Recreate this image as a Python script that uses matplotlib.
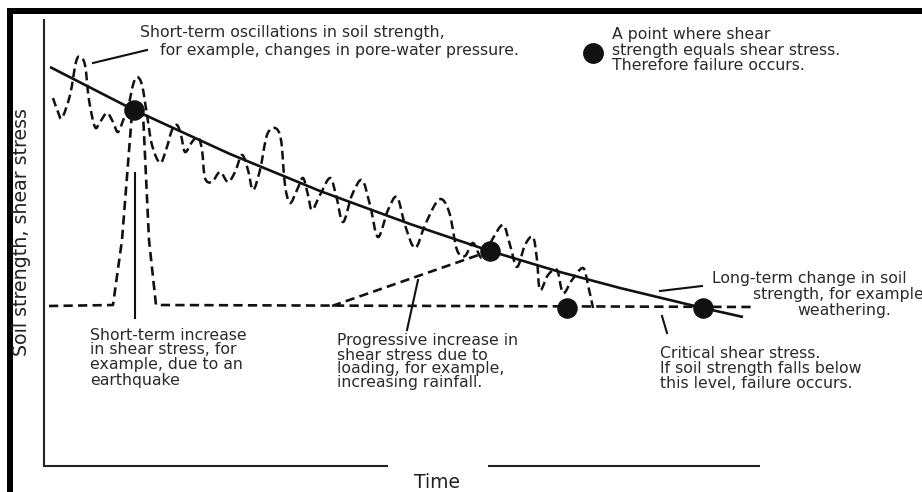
import numpy as np
import matplotlib
matplotlib.use("Agg")
import matplotlib.pyplot as plt
from matplotlib.path import Path
from matplotlib.patches import PathPatch, Rectangle

# ---------------- data (time units / strength units, arbitrary) ----------------
# long-term soil strength (solid line)
strength_t = [6, 90, 186, 276, 366, 446, 516, 576, 659, 699]
strength_s = [399, 356, 312, 275, 242, 215, 194, 178, 158, 149]

# short-term oscillating soil strength (dashed wavy curve)
osc_t = [9, 14, 18, 26, 32, 36, 41, 45, 51, 56, 63, 69, 74, 80, 84, 89, 93, 98, 103, 108,
         116, 122, 128, 133, 137, 141, 148, 154, 158, 161, 168, 176, 184, 191, 198, 204, 209,
         216, 223, 231, 237, 241, 246, 253, 259, 264, 268, 276, 286, 292, 299, 308, 318, 326,
         334, 344, 353, 361, 371, 381, 392, 399, 406, 413, 421, 429, 438, 448, 459, 466, 473,
         481, 489, 493, 496, 504, 513, 519, 528, 539, 544, 549]
osc_s = [368, 354, 348, 371, 404, 409, 401, 366, 339, 344, 353, 344, 334, 348, 358, 381, 389,
         381, 351, 321, 303, 316, 336, 341, 331, 314, 324, 329, 316, 288, 284, 294, 284, 294,
         311, 296, 276, 296, 331, 338, 326, 281, 263, 276, 288, 271, 256, 271, 288, 271, 244,
         271, 286, 261, 229, 256, 269, 241, 218, 241, 263, 266, 251, 216, 210, 223, 208, 226,
         241, 221, 199, 221, 229, 206, 176, 191, 196, 173, 186, 198, 181, 158]

# critical shear stress (horizontal dashed) with earthquake spike
shear_t = [5, 69, 78, 88, 93, 99, 105, 112, 711]
shear_s = [160, 161, 226, 353, 364, 353, 226, 161, 159]

# progressive increase in shear stress
prog_t = [288, 446]
prog_s = [160, 215]

# failure points
fail_t = [90, 446, 523, 659]
fail_s = [356, 215, 158, 158]

# ---------------- figure ----------------
W, H = 922, 492
fig = plt.figure(figsize=(W / 100, H / 100), dpi=100)
fig.patch.set_facecolor("white")

def fx(x):
    return x / W

def fy(y):
    return 1 - y / H

ax = fig.add_axes([fx(44), fy(466), 716 / W, 446 / H])
ax.set_xlim(0, 716)
ax.set_ylim(0, 446)
ax.set_xticks([])
ax.set_yticks([])
for side in ["top", "right", "bottom"]:
    ax.spines[side].set_visible(False)
ax.spines["left"].set_linewidth(1.5)
ax.spines["left"].set_color("#222222")
ax.patch.set_alpha(0)

# broken x-axis line with "Time" in the gap
ax.plot([0, 344 / 716], [0, 0], transform=ax.transAxes, color="#222222", lw=1.5,
        clip_on=False, solid_capstyle="butt")
ax.plot([444 / 716, 1], [0, 0], transform=ax.transAxes, color="#222222", lw=1.5,
        clip_on=False, solid_capstyle="butt")

ink = "#111111"
dash = (0, (3.5, 2.0))

# long-term strength
ax.plot(strength_t, strength_s, color=ink, lw=1.9, solid_capstyle="butt",
        solid_joinstyle="round", clip_on=False)

# oscillation (smooth path through the read points)
def smooth_path(t, s):
    P = np.column_stack([t, s]).astype(float)
    verts = [P[0]]
    codes = [Path.MOVETO]
    n = len(P)
    for i in range(n - 1):
        p0 = P[i - 1] if i > 0 else P[i]
        p1 = P[i]
        p2 = P[i + 1]
        p3 = P[i + 2] if i + 2 < n else P[i + 1]
        c1 = p1 + (p2 - p0) / 6.0
        c2 = p2 - (p3 - p1) / 6.0
        verts += [c1, c2, p2]
        codes += [Path.CURVE4] * 3
    return Path(verts, codes)

ax.add_patch(PathPatch(smooth_path(osc_t, osc_s), fill=False, edgecolor=ink, lw=1.8,
                       linestyle=(0, (3.5, 1.8)), clip_on=False))

# shear stress with earthquake spike + critical level
ax.plot(shear_t, shear_s, color=ink, lw=1.9, linestyle=dash, clip_on=False)
# progressive loading
ax.plot(prog_t, prog_s, color=ink, lw=1.9, linestyle=dash, clip_on=False)

# failure points
ax.scatter(fail_t, fail_s, s=190, color=ink, zorder=5, clip_on=False)

# ---------------- annotations (pixel positions converted to figure coords) ----------------
txt = dict(color="#2a2a2a", fontsize=11.3, family="DejaVu Sans", linespacing=1.0)

def ftext(x, y, s, **kw):
    d = dict(txt)
    d.update(kw)
    fig.text(fx(x), fy(y), s, va="center", **d)

def fline(x0, y0, x1, y1):
    fig.add_artist(plt.Line2D([fx(x0), fx(x1)], [fy(y0), fy(y1)], color=ink, lw=1.5))

# oscillation label
ftext(140, 32, "Short-term oscillations in soil strength,")
ftext(160, 50, "for example, changes in pore-water pressure.")
fline(93, 63, 147, 50)

# legend dot
fig.add_artist(plt.Line2D([fx(593)], [fy(53)], marker="o", markersize=14, color=ink))
ftext(612, 34, "A point where shear")
ftext(612, 50, "strength equals shear stress.")
ftext(612, 66, "Therefore failure occurs.")

# earthquake label
ftext(90, 335, "Short-term increase")
ftext(90, 350, "in shear stress, for")
ftext(90, 365, "example, due to an")
ftext(90, 380, "earthquake")
fline(135, 318, 135, 173)

# progressive label
ftext(337, 340, "Progressive increase in")
ftext(337, 355, "shear stress due to")
ftext(337, 369, "loading, for example,")
ftext(337, 383, "increasing rainfall.")
fline(407, 330, 418, 280)

# long-term label
ftext(712, 278, "Long-term change in soil")
ftext(753, 294, "strength, for example")
ftext(797, 310, "weathering.")
fline(660, 291, 702, 286)

# critical label
ftext(660, 353, "Critical shear stress.")
ftext(660, 369, "If soil strength falls below")
ftext(660, 384, "this level, failure occurs.")
fline(662, 316, 667, 333)

# axis titles
fig.text(fx(437), fy(483), "Time", ha="center", va="center", fontsize=13.5,
         color="#222222", family="DejaVu Sans")
fig.text(fx(22), fy(232), "Soil strength, shear stress", ha="center", va="center",
         rotation=90, fontsize=13.7, color="#222222", family="DejaVu Sans")

# black frame (top and left)
fig.add_artist(Rectangle((fx(7), fy(14)), 1 - fx(7), 6 / H, transform=fig.transFigure,
                         color="black", lw=0))
fig.add_artist(Rectangle((fx(7), 0), 6 / W, fy(8), transform=fig.transFigure,
                         color="black", lw=0))

fig.savefig("out.png", dpi=100, facecolor="white")
